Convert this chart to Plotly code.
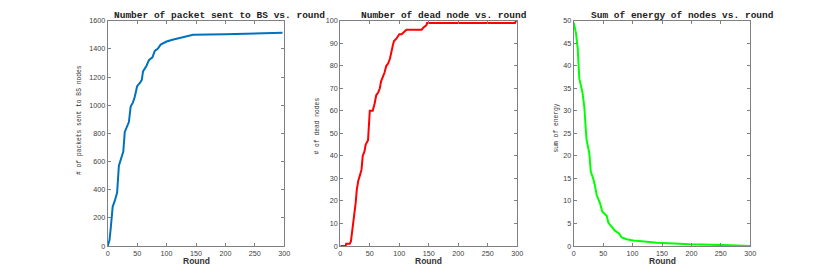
import plotly.graph_objects as go

# ---- data ----
pk_round = [0, 3, 5, 8.5, 12, 16, 19, 23, 26.5, 29, 33, 36, 39, 43, 46, 50, 55, 58, 60, 66, 70, 76, 80, 85, 90, 95, 100, 110, 120, 130, 145, 200, 250, 297]
pk_count = [0, 40, 120, 280, 320, 380, 570, 620, 670, 810, 850, 880, 990, 1020, 1060, 1135, 1160, 1180, 1240, 1280, 1320, 1340, 1385, 1400, 1430, 1440, 1452, 1465, 1475, 1483, 1500, 1503, 1510, 1515]

dead_round = [0, 9, 10, 16, 18, 21, 23, 26, 28, 30.5, 34, 36, 38, 41, 43, 47, 50, 55, 58, 61, 64, 67, 69, 72, 75, 78, 81, 84, 86, 89, 91, 95, 100, 104, 108, 112, 138, 141, 146, 147, 296, 298]
dead_count = [0, 0, 1, 1, 2, 8, 13, 19, 25, 29, 32, 34, 40, 42, 45, 47, 60, 60, 63, 67, 68, 70, 73, 75, 77, 80, 81, 83, 86, 89, 91, 92, 94, 94, 95, 96, 96, 97, 98, 99, 99, 100]

en_round = [0, 3.9, 6.8, 9.5, 15, 18, 21, 22, 26.5, 29, 33, 36, 39, 44.7, 48.6, 56, 58.8, 67, 70, 77, 81.5, 90, 101, 120, 141, 170, 197, 254, 300]
en_sum = [49.6, 47.2, 43.9, 37.2, 34, 30.9, 25, 23.5, 20.6, 16.5, 15, 13.5, 11.3, 9.5, 7.6, 6.7, 5.2, 3.9, 3.4, 2.8, 1.9, 1.5, 1.2, 1.0, 0.73, 0.55, 0.37, 0.2, 0.0]

titles = ["Number of packet sent to BS vs. round",
          "Number of dead node vs. round",
          "Sum of energy of nodes vs. round"]
ylabels = ["# of packets sent to BS nodes", "# of dead nodes", "sum of energy"]
x_ticks = [0, 50, 100, 150, 200, 250, 300]
y1_ticks = [0, 200, 400, 600, 800, 1000, 1200, 1400, 1600]
y2_ticks = [0, 10, 20, 30, 40, 50, 60, 70, 80, 90, 100]
y3_ticks = [0, 5, 10, 15, 20, 25, 30, 35, 40, 45, 50]

W, H = 830, 277
OFF = 8  # page body margin: positions below are window pixels minus this


def px(x):
    return (x - OFF) / W


def py(y):
    return 1 - (y - OFF) / H


fig = go.Figure()

fig.add_trace(go.Scatter(x=pk_round, y=pk_count, mode="lines",
                         line=dict(color="#0072BD", width=2), xaxis="x", yaxis="y"))
fig.add_trace(go.Scatter(x=dead_round, y=dead_count, mode="lines",
                         line=dict(color="#FF0000", width=2), xaxis="x2", yaxis="y2"))
fig.add_trace(go.Scatter(x=en_round, y=en_sum, mode="lines",
                         line=dict(color="#00FF00", width=2), xaxis="x3", yaxis="y3"))

xdoms = [(107.7, 284.3), (340.3, 517.3), (573.7, 750.3)]
ydom = [py(246), py(20.7)]
tickfont = dict(family="Liberation Sans, Arial", size=7.2, color="#404040")

common_axis = dict(showgrid=False, zeroline=False, showline=True, linecolor="#808080",
                   linewidth=1, mirror="ticks", ticks="inside", ticklen=3,
                   tickcolor="#808080", tickfont=tickfont)

layout = dict(width=W, height=H, margin=dict(l=0, r=0, t=0, b=0, autoexpand=False),
              paper_bgcolor="white", plot_bgcolor="white", showlegend=False)

yranges = [[0, 1600], [0, 100], [0, 50]]
yticks = [y1_ticks, y2_ticks, y3_ticks]
for i in range(3):
    sx = "" if i == 0 else str(i + 1)
    layout["xaxis" + sx] = dict(common_axis, domain=[px(xdoms[i][0]), px(xdoms[i][1])],
                                range=[0, 300], tickvals=x_ticks,
                                anchor="y" + sx)
    layout["yaxis" + sx] = dict(common_axis, domain=ydom, range=yranges[i],
                                tickvals=yticks[i], anchor="x" + sx)

fig.update_layout(**layout)

# titles
title_cx = [219.5, 443.6, 682]
for i, t in enumerate(titles):
    fig.add_annotation(text="<b>" + t + "</b>", xref="paper", yref="paper",
                       x=px(title_cx[i]), y=py(15), xanchor="center", yanchor="middle",
                       showarrow=False,
                       font=dict(family="Liberation Mono, Courier New", size=9.5, color="#222222"))

# x labels
for i in range(3):
    cx = (xdoms[i][0] + xdoms[i][1]) / 2
    fig.add_annotation(text="<b>Round</b>", xref="paper", yref="paper",
                       x=px(cx), y=py(261), xanchor="center", yanchor="middle",
                       showarrow=False,
                       font=dict(family="Liberation Sans, Arial", size=8.5, color="#333333"))

# y labels
ylab_x = [80, 317, 556]
ylab_y = [120, 126.5, 128.5]
for i, t in enumerate(ylabels):
    fig.add_annotation(text=t, xref="paper", yref="paper",
                       x=px(ylab_x[i]), y=py(ylab_y[i]), xanchor="center", yanchor="middle",
                       textangle=-90, showarrow=False,
                       font=dict(family="Liberation Mono, Courier New", size=6.3, color="#333333"))

fig.write_html("out.html")
